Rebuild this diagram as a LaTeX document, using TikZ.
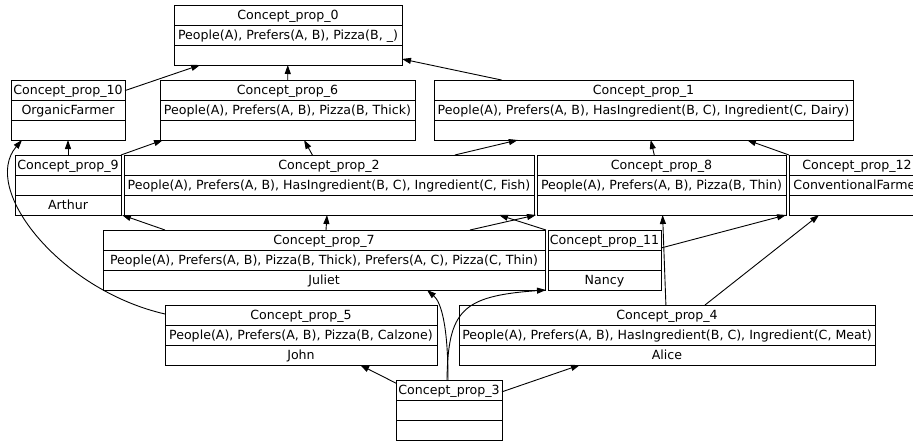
\documentclass[tikz,border=0pt]{standalone}
\usepackage{fontspec}
\setmainfont{DejaVu Sans}
\usetikzlibrary{arrows.meta,calc}
\tikzset{
  recbox/.style={draw, line width=0.9pt, minimum height=60pt, inner sep=0pt, outer sep=0pt},
  recline/.style={line width=0.9pt},
  rectxt/.style={anchor=base, inner sep=0pt, font=\fontsize{12.6}{15}\selectfont},
  conn/.style={line width=0.9pt, -{Triangle[length=9pt,width=6pt]}},
}
% name, left, top, width, row1, row2, row3
\newcommand\recnode[7]{%
  \node[recbox, minimum width=#4pt] (#1) at ({#2+#4/2},{#3+30}) {};
  \draw[recline] ({#2},{#3+20}) -- ++(#4,0);
  \draw[recline] ({#2},{#3+40}) -- ++(#4,0);
  \node[rectxt] (#1a) at ({#2+#4/2},{#3+14.5}) {#5};
  \node[rectxt] (#1b) at ({#2+#4/2},{#3+34.5}) {#6};
  \node[rectxt] (#1c) at ({#2+#4/2},{#3+54.5}) {#7};
}
\begin{document}
\begin{tikzpicture}[x=1pt,y=-1pt]
\useasboundingbox (0,0) rectangle (913,442);
\recnode{p0}{174}{5}{228}{Concept\_prop\_0}{People(A), Prefers(A, B), Pizza(B, \_)}{}
\recnode{p10}{11}{80}{114}{Concept\_prop\_10}{OrganicFarmer}{}
\recnode{p6}{160}{80}{255}{Concept\_prop\_6}{People(A), Prefers(A, B), Pizza(B, Thick)}{}
\recnode{p1}{434}{80}{419}{Concept\_prop\_1}{People(A), Prefers(A, B), HasIngredient(B, C), Ingredient(C, Dairy)}{}
\recnode{p9}{15}{155}{106}{Concept\_prop\_9}{}{Arthur}
\recnode{p2}{124}{155}{410}{Concept\_prop\_2}{People(A), Prefers(A, B), HasIngredient(B, C), Ingredient(C, Fish)}{}
\recnode{p8}{537}{155}{249}{Concept\_prop\_8}{People(A), Prefers(A, B), Pizza(B, Thin)}{}
\recnode{p12}{789}{155}{136}{Concept\_prop\_12}{ConventionalFarmer}{}
\recnode{p7}{103}{230}{442}{Concept\_prop\_7}{People(A), Prefers(A, B), Pizza(B, Thick), Prefers(A, C), Pizza(C, Thin)}{Juliet}
\recnode{p11}{548}{230}{113}{Concept\_prop\_11}{}{Nancy}
\recnode{p5}{165}{305}{272}{Concept\_prop\_5}{People(A), Prefers(A, B), Pizza(B, Calzone)}{John}
\recnode{p4}{459}{305}{416}{Concept\_prop\_4}{People(A), Prefers(A, B), HasIngredient(B, C), Ingredient(C, Meat)}{Alice}
\recnode{p3}{396}{380}{106}{Concept\_prop\_3}{}{}

% connectors (child -> parent)
\draw[conn] (p10) -- (p0);
\draw[conn] (p6) -- (p0);
\draw[conn] (p1) -- (p0);
\draw[conn] (p9) -- (p10);
\draw[conn] (p9.north east) -- ($(p6.south west)+(3,0)$);
\draw[conn] (p2) -- (p6);
\draw[conn] (p2) -- (p1);
\draw[conn] (p8) -- (p1);
\draw[conn] (p12.north west) -- ($(p1.south)+(103.5,0)$);
\draw[conn] ($(p7.north west)+(62,0)$) -- ($(p9.south east)+(1,0)$);
\draw[conn] (p7) -- (p2);
\draw[conn] ($(p7.north east)+(-75,0)$) -- ($(p8.south west)+(-1,0)$);
\draw[conn] ($(p11.north west)+(-2,0)$) -- ($(p2.south)+(170,0)$);
\draw[conn] ($(p11.east)+(0,-12)$) -- (p8.south east);
\draw[conn] (p4) -- (p8);
\draw[conn] (p4) -- (p12);
\draw[conn] ($(p5.north west)+(0,9)$) .. controls +(-105,-24) and +(-42,49) .. ($(p10.south west)+(11,0)$);
\draw[conn] (p3) -- (p5);
\draw[conn] (p3) -- (p4);
\draw[conn] ($(p3.north)+(-1,0)$) .. controls +(0,-55) and +(14,12) .. ($(p7.south east)+(-118,0)$);
\draw[conn] ($(p3.north)+(-2,0)$) .. controls +(1,-70) and +(-84,6) .. ($(p11.south west)+(-2,0)$);
\end{tikzpicture}
\end{document}
